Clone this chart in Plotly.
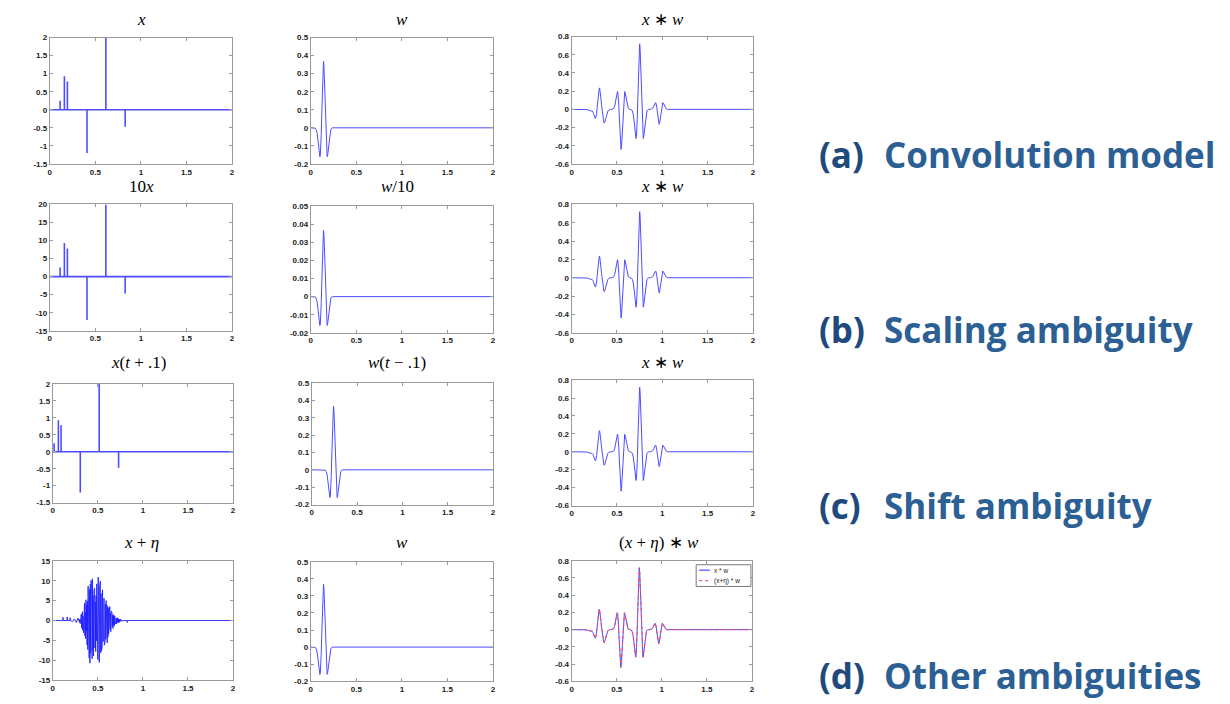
import numpy as np
import plotly.graph_objects as go

W, H = 1230, 704

# ---------------- data ----------------
# sparse spike train x(t)
spike_t = [0.113, 0.160, 0.193, 0.408, 0.615, 0.827]
spike_x = [0.25, 0.93, 0.78, -1.20, 2.00, -0.47]
spike_10x = [2.5, 9.3, 7.8, -12.0, 20.0, -4.7]
spike_shift_t = [0.015, 0.062, 0.092, 0.305, 0.515, 0.730]

# wavelet w(t)
w_t = [0.0, 0.04, 0.05, 0.06, 0.07, 0.08, 0.09, 0.095, 0.10, 0.105, 0.11, 0.115, 0.12, 0.125,
       0.13, 0.135, 0.14, 0.145, 0.15, 0.155, 0.16, 0.165, 0.17, 0.175, 0.18, 0.185, 0.19,
       0.20, 0.21, 0.22, 0.23, 0.24, 2.0]
w_v = [0.0, 0.0, -0.002, -0.010, -0.030, -0.071, -0.129, -0.153, -0.160, -0.152, -0.110, -0.037,
       0.061, 0.171, 0.272, 0.343, 0.368, 0.343, 0.272, 0.171, 0.061, -0.037, -0.110, -0.152,
       -0.160, -0.153, -0.129, -0.071, -0.030, -0.010, -0.002, 0.0, 0.0]
w10_v = [0.0, 0.0, -0.0002, -0.0010, -0.0030, -0.0071, -0.0129, -0.0153, -0.0160, -0.0152, -0.0110,
         -0.0037, 0.0061, 0.0171, 0.0272, 0.0343, 0.0368, 0.0343, 0.0272, 0.0171, 0.0061, -0.0037,
         -0.0110, -0.0152, -0.0160, -0.0153, -0.0129, -0.0071, -0.0030, -0.0010, -0.0002, 0.0, 0.0]
w_shift_t = [0.0, 0.14, 0.15, 0.16, 0.17, 0.18, 0.19, 0.195, 0.20, 0.205, 0.21, 0.215, 0.22, 0.225,
             0.23, 0.235, 0.24, 0.245, 0.25, 0.255, 0.26, 0.265, 0.27, 0.275, 0.28, 0.285, 0.29,
             0.30, 0.31, 0.32, 0.33, 0.34, 2.0]

# convolution x*w
conv_t = [0.0, 0.15, 0.17, 0.19, 0.20, 0.21, 0.215, 0.22, 0.225, 0.23, 0.235, 0.24, 0.245, 0.25,
          0.255, 0.26, 0.265, 0.27, 0.275, 0.28, 0.285, 0.29, 0.295, 0.30, 0.305, 0.31, 0.315,
          0.32, 0.325, 0.33, 0.335, 0.34, 0.345, 0.35, 0.355, 0.36, 0.365, 0.37, 0.375, 0.38,
          0.39, 0.40, 0.41, 0.42, 0.43, 0.445,
          0.455, 0.465, 0.475, 0.485, 0.495, 0.50, 0.505, 0.51, 0.515, 0.52, 0.525, 0.53, 0.535,
          0.54, 0.545, 0.55, 0.555, 0.56, 0.565, 0.57, 0.575, 0.58, 0.585, 0.59, 0.595, 0.605,
          0.615, 0.625, 0.635, 0.65,
          0.66, 0.67, 0.68, 0.69, 0.70, 0.705, 0.71, 0.715, 0.72, 0.725, 0.73, 0.735, 0.74, 0.745,
          0.75, 0.755, 0.76, 0.765, 0.77, 0.775, 0.78, 0.785, 0.79, 0.795, 0.80, 0.81, 0.82, 0.83,
          0.84, 0.85,
          0.87, 0.885, 0.895, 0.905, 0.915, 0.92, 0.925, 0.93, 0.935, 0.94, 0.945, 0.95, 0.955,
          0.96, 0.965, 0.97, 0.975, 0.98, 0.985, 0.99, 0.995, 1.00, 1.005, 1.01, 1.015, 1.025,
          1.035, 1.045, 1.06, 2.0]
conv_v = [0.0, 0.0, -0.003, -0.010, -0.016, -0.021, -0.022, -0.020, -0.018, -0.020, -0.030, -0.045,
          -0.062, -0.080, -0.093, -0.100, -0.098, -0.082, -0.045, 0.010, 0.075, 0.140, 0.195, 0.228,
          0.236, 0.225, 0.195, 0.150, 0.098, 0.045, -0.005, -0.050, -0.095, -0.128, -0.146, -0.150,
          -0.144, -0.128, -0.105, -0.080, -0.040, -0.018, -0.007, -0.002, 0.0, 0.0,
          0.003, 0.011, 0.035, 0.085, 0.154, 0.183, 0.196, 0.182, 0.132, 0.044, -0.073, -0.205,
          -0.325, -0.410, -0.440, -0.410, -0.325, -0.205, -0.073, 0.044, 0.132, 0.182, 0.196, 0.183,
          0.154, 0.085, 0.035, 0.011, 0.003, 0.0,
          -0.005, -0.019, -0.058, -0.139, -0.253, -0.300, -0.321, -0.297, -0.216, -0.072, 0.120,
          0.335, 0.531, 0.670, 0.720, 0.670, 0.531, 0.335, 0.120, -0.072, -0.216, -0.297, -0.321,
          -0.300, -0.253, -0.139, -0.058, -0.019, -0.005, 0.0,
          0.0, 0.004, 0.013, 0.032, 0.058, 0.069, 0.074, 0.068, 0.050, 0.017, -0.028, -0.077,
          -0.122, -0.154, -0.165, -0.154, -0.122, -0.077, -0.028, 0.017, 0.050, 0.068, 0.074,
          0.069, 0.058, 0.032, 0.013, 0.004, 0.0, 0.0]
conv_noisy_v = conv_v  # (x+eta)*w is visually identical to x*w

# x + eta: leading part (spikes), noisy burst, trailing part
xn_head_t = [0.0, 0.110, 0.113, 0.116, 0.157, 0.160, 0.163, 0.190, 0.193, 0.196, 0.22, 0.24,
             0.26, 0.28, 0.295]
xn_head_v = [0.0, 0.0, 0.8, 0.0, 0.0, 0.9, 0.0, 0.0, 0.7, 0.0, -0.3, 0.4, -0.5, 0.6, -0.4]
noise_start, noise_end = 0.300, 0.776
noise_v = [0.3, -0.8, 1.2, -0.5, 1.6, -1.9, 0.7, 2.2, -2.4, 1.1,
           -3.1, 3.6, -1.5, 4.4, -3.8, 2.0, -4.6, 5.2, -2.7, 3.9,
           -6.1, 4.8, -7.3, 8.6, -5.2, 6.9, -9.4, 7.8, -10.7, 9.1,
           -8.2, 10.1, -6.5, 8.8, -9.6, 10.5, -7.4, 6.2, -8.9, 7.5,
           -5.8, 8.1, -6.9, 4.7, -7.8, 6.3, -5.1, 9.2, -6.6, 7.9,
           -9.8, 10.9, -8.4, 9.6, -10.5, 8.7, -7.2, 9.9, -8.1, 6.8,
           -7.6, 5.9, -6.8, 7.7, -5.3, 6.4, -4.9, 5.6, -6.2, 4.8,
           -5.5, 4.1, -4.7, 5.0, -3.6, 4.4, -5.6, 3.7, -4.2, 3.2,
           -3.4, 2.9, -2.6, 3.5, -2.2, 1.9, -2.8, 2.4, -1.7, 2.1,
           -1.6, 1.3, -2.0, 1.5, -1.1, 0.9, -1.4, 1.2, -0.8, 1.0,
           -0.7, 0.6, -0.9, 0.5, -0.4, 0.7, -0.5, 0.3, -0.6, 0.4,
           -0.3, 0.25, -0.2, 0.35, -0.15, 0.1, -0.2, 0.12, -0.05, 0.0]
xn_tail_t = [0.80, 0.824, 0.827, 0.830, 2.0]
xn_tail_v = [0.0, 0.0, -0.5, 0.0, 0.0]

# axis ticks
x_ticks = [0, 0.5, 1, 1.5, 2]
y_ticks_x = [-1.5, -1, -0.5, 0, 0.5, 1, 1.5, 2]
y_ticks_10x = [-15, -10, -5, 0, 5, 10, 15, 20]
y_ticks_w = [-0.2, -0.1, 0, 0.1, 0.2, 0.3, 0.4, 0.5]
y_ticks_w10 = [-0.02, -0.01, 0, 0.01, 0.02, 0.03, 0.04, 0.05]
y_ticks_conv = [-0.6, -0.4, -0.2, 0, 0.2, 0.4, 0.6, 0.8]
y_ticks_noise = [-15, -10, -5, 0, 5, 10, 15]

row_labels = ["(a)", "(b)", "(c)", "(d)"]
row_texts = ["Convolution model", "Scaling ambiguity", "Shift ambiguity", "Other ambiguities"]

# ---------------- helpers ----------------
def spike_line(ts, vs):
    xs, ys = [0.0], [0.0]
    for t, v in zip(ts, vs):
        xs += [t, t, t]
        ys += [0.0, v, 0.0]
    xs.append(2.0)
    ys.append(0.0)
    return xs, ys

noise_t = list(np.linspace(noise_start, noise_end, len(noise_v)))
xn_t = xn_head_t + noise_t + xn_tail_t
xn_v = xn_head_v + noise_v + xn_tail_v

BLUE = "#4d4dff"
RED = "rgba(255,70,110,0.9)"
fig = go.Figure()

# panel geometry in pixels: (x0, x1, y0, y1), ticks, title, title center
panels = [
    ((48, 231, 34, 162), y_ticks_x, [-1.5, 2], "<i>x</i>", 140, 16),
    ((310, 493, 34, 162), y_ticks_w, [-0.2, 0.5], "<i>w</i>", 402, 16),
    ((572, 754, 33, 162), y_ticks_conv, [-0.6, 0.8], "<i>x</i> ∗ <i>w</i>", 663, 16),
    ((48, 231, 203, 331), y_ticks_10x, [-15, 20], "10<i>x</i>", 140, 185),
    ((310, 493, 205, 333), y_ticks_w10, [-0.02, 0.05], "<i>w</i>/10", 397, 185),
    ((572, 754, 203, 333), y_ticks_conv, [-0.6, 0.8], "<i>x</i> ∗ <i>w</i>", 663, 185),
    ((51, 232, 385, 505), y_ticks_x, [-1.5, 2], "<i>x</i>(<i>t</i> + .1)", 137, 363),
    ((311, 493, 384, 507), y_ticks_w, [-0.2, 0.5], "<i>w</i>(<i>t</i> − .1)", 397, 363),
    ((572, 754, 381, 508), y_ticks_conv, [-0.6, 0.8], "<i>x</i> ∗ <i>w</i>", 663, 363),
    ((51, 232, 564, 685), y_ticks_noise, [-15, 15], "<i>x</i> + <i>η</i>", 140, 545),
    ((310, 493, 565, 686), y_ticks_w, [-0.2, 0.5], "<i>w</i>", 402, 545),
    ((572, 753, 564, 686), y_ticks_conv, [-0.6, 0.8], "(<i>x</i> + <i>η</i>) ∗ <i>w</i>", 660, 545),
]

def fmt(v):
    return f"{v:g}"

tickfont = dict(family="Liberation Sans", size=8, color="#222222", weight="bold")
layout = {}
annotations = []
for i, (box, yt, yr, title, tx, ty) in enumerate(panels):
    n = "" if i == 0 else str(i + 1)
    x0, x1, y0, y1 = box
    common = dict(showline=True, linecolor="#9a9a9a", linewidth=1, mirror="ticks",
                  ticks="inside", ticklen=3, tickcolor="#9a9a9a", showgrid=False,
                  zeroline=False, tickfont=tickfont)
    layout["xaxis" + n] = dict(domain=[x0 / W, x1 / W], range=[0, 2], anchor="y" + n,
                               tickvals=x_ticks, ticktext=[fmt(v) for v in x_ticks], **common)
    layout["yaxis" + n] = dict(domain=[1 - y1 / H, 1 - y0 / H], range=yr, anchor="x" + n,
                               tickvals=yt, ticktext=[fmt(v) for v in yt], **common)
    annotations.append(dict(x=tx / W, y=1 - ty / H, xref="paper", yref="paper", text=title,
                            showarrow=False, xanchor="center", yanchor="middle",
                            font=dict(family="Liberation Serif", size=17, color="black")))

def add(i, xs, ys, color=BLUE, width=1.0, dash="solid", name=None):
    n = "" if i == 0 else str(i + 1)
    fig.add_trace(go.Scatter(x=xs, y=ys, mode="lines", xaxis="x" + n, yaxis="y" + n,
                             line=dict(color=color, width=width, dash=dash),
                             showlegend=False, name=name, hoverinfo="skip"))

sx, sy = spike_line(spike_t, spike_x)
add(0, sx, sy, width=1.6)
add(1, w_t, w_v)
add(2, conv_t, conv_v)
sx, sy = spike_line(spike_t, spike_10x)
add(3, sx, sy, width=1.6)
add(4, w_t, w10_v)
add(5, conv_t, conv_v)
sx, sy = spike_line(spike_shift_t, spike_x)
add(6, sx, sy, width=1.6)
add(7, w_shift_t, w_v)
add(8, conv_t, conv_v)
add(9, xn_t, xn_v, color="#2020ff", width=0.9)
add(10, w_t, w_v)
add(11, conv_t, conv_v, name="x * w")
add(11, conv_t, conv_noisy_v, color=RED, width=1.1, dash="dot", name="(x+η) * w")

# small in-axes legend (bottom-right panel)
shapes = [
    dict(type="rect", xref="paper", yref="paper", x0=697 / W, x1=752 / W,
         y0=1 - 590 / H, y1=1 - 568 / H, line=dict(color="#555555", width=0.8),
         fillcolor="white", layer="above"),
    dict(type="line", xref="paper", yref="paper", x0=700 / W, x1=711 / W,
         y0=1 - 573.5 / H, y1=1 - 573.5 / H, line=dict(color=BLUE, width=1.2), layer="above"),
    dict(type="line", xref="paper", yref="paper", x0=700 / W, x1=711 / W,
         y0=1 - 584 / H, y1=1 - 584 / H,
         line=dict(color=RED, width=1.2, dash="dot"), layer="above"),
]
for lbl, yy in (("x * w", 573.5), ("(x+η) * w", 584)):
    annotations.append(dict(x=713 / W, y=1 - yy / H, xref="paper", yref="paper", text=lbl,
                            showarrow=False, xanchor="left", yanchor="middle",
                            font=dict(family="Liberation Sans", size=6.5, color="#222222")))

# right-hand captions
row_y = [152, 330, 508, 680]
for lab, txt, yy in zip(row_labels, row_texts, row_y):
    annotations.append(dict(x=818 / W, y=1 - yy / H, xref="paper", yref="paper", text=lab,
                            showarrow=False, xanchor="left", yanchor="middle",
                            font=dict(family="Open Sans", size=35, color="#1f4a7c", weight="bold")))
    annotations.append(dict(x=884 / W, y=1 - yy / H, xref="paper", yref="paper", text=txt,
                            showarrow=False, xanchor="left", yanchor="middle",
                            font=dict(family="Open Sans", size=35, color="#2c5f93", weight="bold")))

fig.update_layout(width=W, height=H, margin=dict(l=0, r=0, t=0, b=0),
                  paper_bgcolor="white", plot_bgcolor="white", showlegend=False,
                  annotations=annotations, shapes=shapes, **layout)

fig.write_html("out.html")
